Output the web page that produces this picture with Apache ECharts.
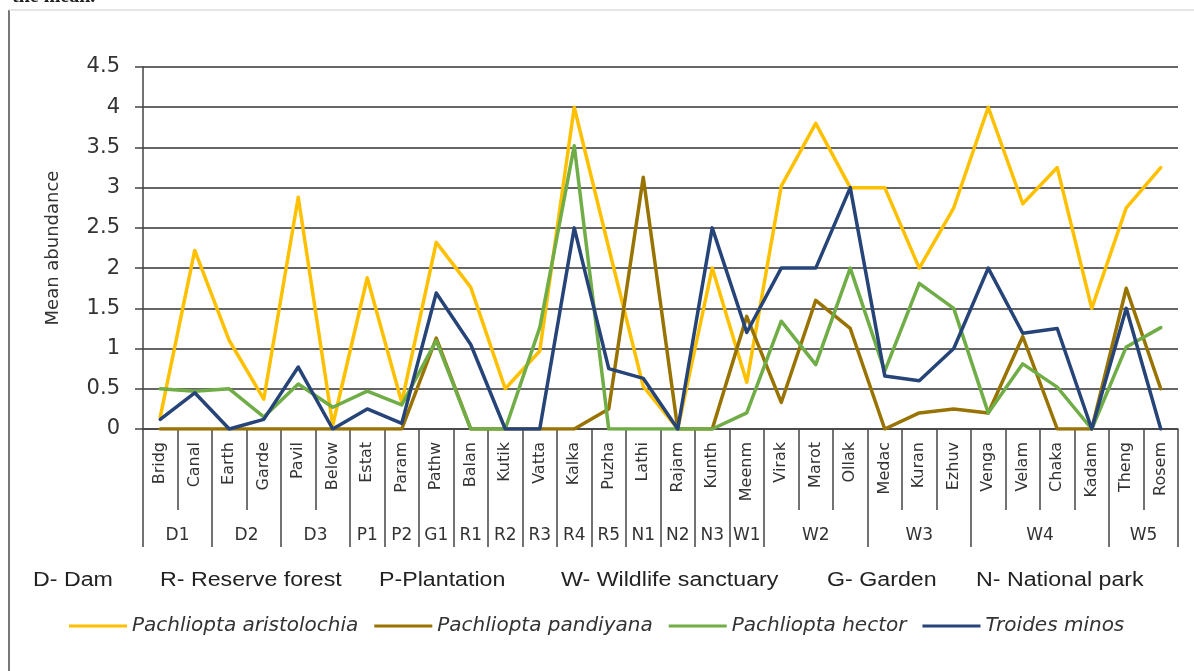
<!DOCTYPE html>
<html>
<head>
<meta charset="utf-8">
<title>Mean abundance</title>
<script src="https://cdn.jsdelivr.net/npm/echarts@6/dist/echarts.min.js"></script>
<style>
  html, body { margin: 0; padding: 0; background: #fff; }
  #chart { width: 1194px; height: 671px; }
</style>
</head>
<body>
<div id="chart"></div>
<script>
// sites along the x axis
const categories = ['Bridg', 'Canal', 'Earth', 'Garde', 'Pavil', 'Below', 'Estat', 'Param', 'Pathw', 'Balan',
  'Kutik', 'Vatta', 'Kalka', 'Puzha', 'Lathi', 'Rajam', 'Kunth', 'Meenm', 'Virak', 'Marot',
  'Ollak', 'Medac', 'Kuran', 'Ezhuv', 'Venga', 'Velam', 'Chaka', 'Kadam', 'Theng', 'Rosem']

// habitat groups and how many sites each one covers
const groups = ['D1', 'D2', 'D3', 'P1', 'P2', 'G1', 'R1', 'R2', 'R3', 'R4', 'R5', 'N1', 'N2', 'N3', 'W1', 'W2', 'W3', 'W4', 'W5']
const groupSizes = [2, 2, 2, 1, 1, 1, 1, 1, 1, 1, 1, 1, 1, 1, 1, 3, 3, 4, 2]

const seriesNames = ['Pachliopta aristolochia', 'Pachliopta pandiyana', 'Pachliopta hector', 'Troides minos']
const aristolochia = [0.15, 2.22, 1.1, 0.37, 2.88, 0.05, 1.88, 0.33, 2.32, 1.76, 0.5, 0.97, 4.0, 2.25, 0.53,
  0, 2.0, 0.58, 3.02, 3.8, 3.0, 3.0, 2.0, 2.75, 4.0, 2.8, 3.25, 1.5, 2.75, 3.25]
const pandiyana = [0, 0, 0, 0, 0, 0, 0, 0, 1.13, 0, 0, 0, 0, 0.25, 3.13,
  0, 0, 1.4, 0.33, 1.6, 1.25, 0, 0.2, 0.25, 0.2, 1.15, 0, 0, 1.75, 0.5]
const hector = [0.5, 0.47, 0.5, 0.15, 0.56, 0.27, 0.47, 0.3, 1.1, 0, 0, 1.26, 3.52, 0, 0,
  0, 0, 0.2, 1.34, 0.8, 2.0, 0.72, 1.81, 1.5, 0.2, 0.81, 0.52, 0, 1.02, 1.26]
const minos = [0.12, 0.45, 0, 0.12, 0.77, 0, 0.25, 0.07, 1.69, 1.05, 0, 0, 2.5, 0.75, 0.63,
  0, 2.5, 1.2, 2.0, 2.0, 3.0, 0.66, 0.6, 1.0, 2.0, 1.19, 1.25, 0, 1.5, 0]

const regionNotes = ['D- Dam', 'R- Reserve forest', 'P-Plantation', 'W- Wildlife sanctuary', 'G- Garden', 'N- National park']

const colors = ['#FFC000', '#997300', '#70AD47', '#264478']
const font = 'DejaVu Sans'

// group axis: 61 points on half-category steps, label at group middle, tick at group edges
const groupSlots = new Array(categories.length * 2 + 1).fill('')
const groupEdges = new Set([0])
let start = 0
groups.forEach((g, i) => {
  groupSlots[start * 2 + groupSizes[i]] = g
  start += groupSizes[i]
  groupEdges.add(start * 2)
})

const noteX = [33, 160, 379, 561, 827, 976]

const myChart = echarts.init(document.getElementById('chart'))

const option = {
  animation: false,
  grid: { left: 143, right: 16, top: 67, bottom: 242, containLabel: false },
  legend: {
    data: seriesNames,
    left: 69,
    top: 616,
    padding: 0,
    icon: 'rect',
    itemWidth: 58,
    itemHeight: 3,
    itemGap: 16,
    textStyle: { fontFamily: font, fontStyle: 'italic', fontSize: 20, color: '#333' }
  },
  xAxis: [{
    type: 'category',
    data: categories,
    boundaryGap: true,
    axisLine: { lineStyle: { color: '#444', width: 1.5 } },
    axisTick: { show: true, interval: 0, length: 81, lineStyle: { color: '#444', width: 1.5 } },
    axisLabel: { rotate: 90, interval: 0, margin: 13, fontFamily: font, fontSize: 16, color: '#333' },
    splitLine: { show: false }
  }, {
    type: 'category',
    data: groupSlots,
    position: 'bottom',
    boundaryGap: false,
    axisLine: { show: false },
    axisTick: {
      show: true,
      length: 118,
      interval: function (index) { return groupEdges.has(index) },
      lineStyle: { color: '#444', width: 1.5 }
    },
    axisLabel: {
      interval: function (index, value) { return value !== '' },
      margin: 98,
      fontFamily: font,
      fontSize: 17,
      color: '#333'
    },
    splitLine: { show: false }
  }],
  yAxis: {
    type: 'value',
    min: 0,
    max: 4.5,
    interval: 0.5,
    name: 'Mean abundance',
    nameLocation: 'middle',
    nameGap: 81,
    nameTextStyle: { fontFamily: font, fontSize: 18, color: '#333' },
    axisLine: { show: true, lineStyle: { color: '#444', width: 1.5 } },
    axisTick: { show: true, length: 8, lineStyle: { color: '#444', width: 1.5 } },
    axisLabel: { margin: 23, fontFamily: font, fontSize: 21, color: '#333' },
    splitLine: { lineStyle: { color: '#666', width: 2 } }
  },
  series: [aristolochia, pandiyana, hector, minos].map((d, i) => ({
    name: seriesNames[i],
    type: 'line',
    data: d,
    symbol: 'none',
    color: colors[i],
    lineStyle: { width: 3.5, color: colors[i], join: 'round', cap: 'round' },
    itemStyle: { color: colors[i] }
  })),
  graphic: [
    { type: 'line', shape: { x1: 9, y1: 10, x2: 9, y2: 671 }, style: { stroke: '#777', lineWidth: 2 } },
    { type: 'line', shape: { x1: 9, y1: 10, x2: 1194, y2: 10 }, style: { stroke: '#ddd', lineWidth: 1.5 } },
    {
      type: 'text', left: 12, top: -13,
      style: { text: 'the mean.', fontFamily: 'Liberation Serif', fontWeight: 'bold', fontSize: 20, fill: '#222' }
    }
  ].concat(regionNotes.map((t, i) => ({
    type: 'text',
    x: noteX[i],
    y: 580,
    scaleX: 1.16,
    style: {
      text: t,
      fontFamily: 'Liberation Sans',
      fontSize: 20,
      fill: '#222',
      textVerticalAlign: 'middle',
      verticalAlign: 'middle'
    }
  })))
}

myChart.setOption(option)
</script>
</body>
</html>
